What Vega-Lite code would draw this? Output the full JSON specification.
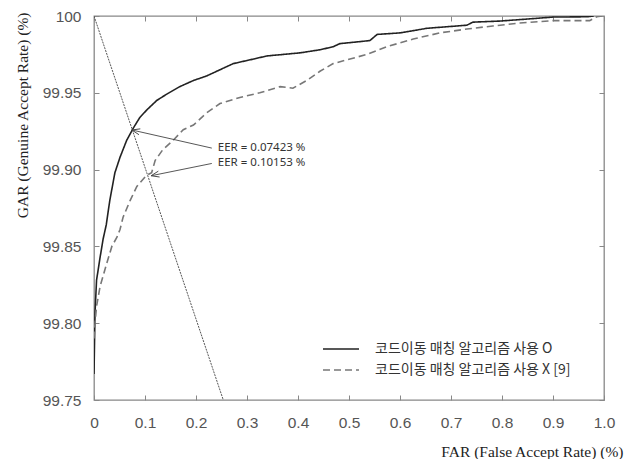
{
  "$schema": "https://vega.github.io/schema/vega-lite/v6.json",
  "autosize": {"type": "none"},
  "width": 510,
  "height": 384,
  "padding": {"left": 94, "top": 16, "right": 28, "bottom": 59},
  "background": "white",
  "config": {
    "view": {"stroke": "#888888", "strokeWidth": 1.3},
    "axis": {
      "domain": false,
      "grid": false,
      "tickColor": "#888888",
      "tickSize": -5,
      "tickWidth": 1,
      "labelFont": "Liberation Sans",
      "labelFontSize": 15.5,
      "labelColor": "#555555",
      "titleFont": "Liberation Serif",
      "titleFontSize": 15.5,
      "titleFontWeight": "normal",
      "titleColor": "#222222"
    }
  },
  "resolve": {"axis": {"x": "independent", "y": "independent"}},
  "layer": [
    {
      "data": {"values": [{"far": 0, "gar": 100}, {"far": 0.2535, "gar": 99.75}]},
      "mark": {"type": "line", "color": "#555555", "strokeWidth": 1, "strokeDash": [2, 1], "clip": true},
      "encoding": {
        "x": {"field": "far", "type": "quantitative", "scale": {"domain": [0, 1], "nice": false, "zero": false},
              "axis": {"orient": "top", "labels": false, "title": null, "values": [0,0.1,0.2,0.3,0.4,0.5,0.6,0.7,0.8,0.9,1.0]}},
        "y": {"field": "gar", "type": "quantitative", "scale": {"domain": [99.75, 100], "nice": false, "zero": false},
              "axis": {"orient": "right", "labels": false, "title": null, "values": [99.75,99.8,99.85,99.9,99.95,100]}}
      }
    },
    {
      "data": {"values": [
        {"s": "코드이동 매칭 알고리즘 사용 O", "far": 0, "gar": 99.767},
        {"s": "코드이동 매칭 알고리즘 사용 O", "far": 0.002, "gar": 99.807},
        {"s": "코드이동 매칭 알고리즘 사용 O", "far": 0.005, "gar": 99.828},
        {"s": "코드이동 매칭 알고리즘 사용 O", "far": 0.012, "gar": 99.843},
        {"s": "코드이동 매칭 알고리즘 사용 O", "far": 0.018, "gar": 99.855},
        {"s": "코드이동 매칭 알고리즘 사용 O", "far": 0.024, "gar": 99.864},
        {"s": "코드이동 매칭 알고리즘 사용 O", "far": 0.031, "gar": 99.880},
        {"s": "코드이동 매칭 알고리즘 사용 O", "far": 0.041, "gar": 99.898},
        {"s": "코드이동 매칭 알고리즘 사용 O", "far": 0.051, "gar": 99.908},
        {"s": "코드이동 매칭 알고리즘 사용 O", "far": 0.064, "gar": 99.919},
        {"s": "코드이동 매칭 알고리즘 사용 O", "far": 0.077, "gar": 99.927},
        {"s": "코드이동 매칭 알고리즘 사용 O", "far": 0.090, "gar": 99.934},
        {"s": "코드이동 매칭 알고리즘 사용 O", "far": 0.104, "gar": 99.939},
        {"s": "코드이동 매칭 알고리즘 사용 O", "far": 0.123, "gar": 99.945},
        {"s": "코드이동 매칭 알고리즘 사용 O", "far": 0.142, "gar": 99.949},
        {"s": "코드이동 매칭 알고리즘 사용 O", "far": 0.168, "gar": 99.954},
        {"s": "코드이동 매칭 알고리즘 사용 O", "far": 0.195, "gar": 99.958},
        {"s": "코드이동 매칭 알고리즘 사용 O", "far": 0.221, "gar": 99.961},
        {"s": "코드이동 매칭 알고리즘 사용 O", "far": 0.247, "gar": 99.965},
        {"s": "코드이동 매칭 알고리즘 사용 O", "far": 0.273, "gar": 99.969},
        {"s": "코드이동 매칭 알고리즘 사용 O", "far": 0.313, "gar": 99.972},
        {"s": "코드이동 매칭 알고리즘 사용 O", "far": 0.339, "gar": 99.974},
        {"s": "코드이동 매칭 알고리즘 사용 O", "far": 0.372, "gar": 99.975},
        {"s": "코드이동 매칭 알고리즘 사용 O", "far": 0.404, "gar": 99.976},
        {"s": "코드이동 매칭 알고리즘 사용 O", "far": 0.443, "gar": 99.978},
        {"s": "코드이동 매칭 알고리즘 사용 O", "far": 0.469, "gar": 99.980},
        {"s": "코드이동 매칭 알고리즘 사용 O", "far": 0.482, "gar": 99.982},
        {"s": "코드이동 매칭 알고리즘 사용 O", "far": 0.541, "gar": 99.984},
        {"s": "코드이동 매칭 알고리즘 사용 O", "far": 0.555, "gar": 99.988},
        {"s": "코드이동 매칭 알고리즘 사용 O", "far": 0.6, "gar": 99.989},
        {"s": "코드이동 매칭 알고리즘 사용 O", "far": 0.653, "gar": 99.992},
        {"s": "코드이동 매칭 알고리즘 사용 O", "far": 0.731, "gar": 99.994},
        {"s": "코드이동 매칭 알고리즘 사용 O", "far": 0.743, "gar": 99.996},
        {"s": "코드이동 매칭 알고리즘 사용 O", "far": 0.796, "gar": 99.9967},
        {"s": "코드이동 매칭 알고리즘 사용 O", "far": 0.849, "gar": 99.998},
        {"s": "코드이동 매칭 알고리즘 사용 O", "far": 0.9, "gar": 99.9993},
        {"s": "코드이동 매칭 알고리즘 사용 O", "far": 0.966, "gar": 99.9995},
        {"s": "코드이동 매칭 알고리즘 사용 O", "far": 0.98, "gar": 100},
        {"s": "코드이동 매칭 알고리즘 사용 X [9]", "far": 0, "gar": 99.790},
        {"s": "코드이동 매칭 알고리즘 사용 X [9]", "far": 0.001, "gar": 99.796},
        {"s": "코드이동 매칭 알고리즘 사용 X [9]", "far": 0.005, "gar": 99.811},
        {"s": "코드이동 매칭 알고리즘 사용 X [9]", "far": 0.012, "gar": 99.824},
        {"s": "코드이동 매칭 알고리즘 사용 X [9]", "far": 0.025, "gar": 99.839},
        {"s": "코드이동 매칭 알고리즘 사용 X [9]", "far": 0.035, "gar": 99.850},
        {"s": "코드이동 매칭 알고리즘 사용 X [9]", "far": 0.045, "gar": 99.856},
        {"s": "코드이동 매칭 알고리즘 사용 X [9]", "far": 0.051, "gar": 99.861},
        {"s": "코드이동 매칭 알고리즘 사용 X [9]", "far": 0.057, "gar": 99.869},
        {"s": "코드이동 매칭 알고리즘 사용 X [9]", "far": 0.071, "gar": 99.880},
        {"s": "코드이동 매칭 알고리즘 사용 X [9]", "far": 0.084, "gar": 99.889},
        {"s": "코드이동 매칭 알고리즘 사용 X [9]", "far": 0.102, "gar": 99.896},
        {"s": "코드이동 매칭 알고리즘 사용 X [9]", "far": 0.113, "gar": 99.898},
        {"s": "코드이동 매칭 알고리즘 사용 X [9]", "far": 0.12, "gar": 99.906},
        {"s": "코드이동 매칭 알고리즘 사용 X [9]", "far": 0.135, "gar": 99.913},
        {"s": "코드이동 매칭 알고리즘 사용 X [9]", "far": 0.155, "gar": 99.919},
        {"s": "코드이동 매칭 알고리즘 사용 X [9]", "far": 0.175, "gar": 99.926},
        {"s": "코드이동 매칭 알고리즘 사용 X [9]", "far": 0.195, "gar": 99.929},
        {"s": "코드이동 매칭 알고리즘 사용 X [9]", "far": 0.221, "gar": 99.937},
        {"s": "코드이동 매칭 알고리즘 사용 X [9]", "far": 0.247, "gar": 99.943},
        {"s": "코드이동 매칭 알고리즘 사용 X [9]", "far": 0.286, "gar": 99.947},
        {"s": "코드이동 매칭 알고리즘 사용 X [9]", "far": 0.325, "gar": 99.950},
        {"s": "코드이동 매칭 알고리즘 사용 X [9]", "far": 0.365, "gar": 99.954},
        {"s": "코드이동 매칭 알고리즘 사용 X [9]", "far": 0.39, "gar": 99.953},
        {"s": "코드이동 매칭 알고리즘 사용 X [9]", "far": 0.417, "gar": 99.958},
        {"s": "코드이동 매칭 알고리즘 사용 X [9]", "far": 0.443, "gar": 99.964},
        {"s": "코드이동 매칭 알고리즘 사용 X [9]", "far": 0.469, "gar": 99.969},
        {"s": "코드이동 매칭 알고리즘 사용 X [9]", "far": 0.535, "gar": 99.975},
        {"s": "코드이동 매칭 알고리즘 사용 X [9]", "far": 0.574, "gar": 99.980},
        {"s": "코드이동 매칭 알고리즘 사용 X [9]", "far": 0.626, "gar": 99.985},
        {"s": "코드이동 매칭 알고리즘 사용 X [9]", "far": 0.678, "gar": 99.989},
        {"s": "코드이동 매칭 알고리즘 사용 X [9]", "far": 0.731, "gar": 99.9915},
        {"s": "코드이동 매칭 알고리즘 사용 X [9]", "far": 0.782, "gar": 99.9935},
        {"s": "코드이동 매칭 알고리즘 사용 X [9]", "far": 0.835, "gar": 99.9954},
        {"s": "코드이동 매칭 알고리즘 사용 X [9]", "far": 0.9, "gar": 99.997},
        {"s": "코드이동 매칭 알고리즘 사용 X [9]", "far": 0.972, "gar": 99.997},
        {"s": "코드이동 매칭 알고리즘 사용 X [9]", "far": 0.986, "gar": 99.9995},
        {"s": "코드이동 매칭 알고리즘 사용 X [9]", "far": 0.996, "gar": 100}
      ]},
      "mark": {"type": "line", "strokeWidth": 1.6, "clip": true},
      "encoding": {
        "x": {"field": "far", "type": "quantitative", "scale": {"domain": [0, 1], "nice": false, "zero": false},
              "axis": {"orient": "bottom", "values": [0,0.1,0.2,0.3,0.4,0.5,0.6,0.7,0.8,0.9,1.0],
                       "labelExpr": "datum.value == 0 ? '0' : format(datum.value, '.1f')",
                       "labelPadding": 20, "labelFlush": false,
                       "title": "FAR (False Accept Rate) (%)", "titleFontSize": 15.5, "titleAnchor": "end", "titleAlign": "right",
                       "titleX": 529, "titleY": 56, "titleBaseline": "alphabetic"}},
        "y": {"field": "gar", "type": "quantitative", "scale": {"domain": [99.75, 100], "nice": false, "zero": false},
              "axis": {"orient": "left", "values": [99.75,99.8,99.85,99.9,99.95,100],
                       "labelExpr": "datum.value == 100 ? '100' : format(datum.value, '.2f')",
                       "labelPadding": 18, "labelFlush": false,
                       "title": "GAR (Genuine Accept Rate) (%)", "titleAngle": -90, "titleAlign": "right",
                       "titleBaseline": "middle", "titleX": -72, "titleY": -4}},
        "color": {"field": "s", "type": "nominal",
                  "scale": {"domain": ["코드이동 매칭 알고리즘 사용 O", "코드이동 매칭 알고리즘 사용 X [9]"], "range": ["#222222", "#777777"]},
                  "legend": {"orient": "none", "legendX": 240, "legendY": 326, "title": null,
                             "labelFont": "Noto Sans CJK KR", "labelFontSize": 14, "labelColor": "#333333", "labelLimit": 0,
                             "rowPadding": 7,
                             "symbolType": "M -3 0 H 3", "symbolSize": 144, "symbolStrokeWidth": 1.4, "labelOffset": 27}},
        "strokeDash": {"field": "s", "type": "nominal",
                       "scale": {"domain": ["코드이동 매칭 알고리즘 사용 O", "코드이동 매칭 알고리즘 사용 X [9]"], "range": [[1, 0], [7, 4]]},
                       "legend": {"orient": "none", "legendX": 240, "legendY": 326, "title": null,
                             "labelFont": "Noto Sans CJK KR", "labelFontSize": 14, "labelColor": "#333333", "labelLimit": 0,
                             "rowPadding": 7,
                             "symbolType": "M -3 0 H 3", "symbolSize": 144, "symbolStrokeWidth": 1.4, "labelOffset": 27}}
      }
    },
    {
      "data": {"name": "eer", "values": [
        {"label": "EER = 0.07423 %", "far": 0.0742, "gar": 99.9258, "far2": 0.231, "gar2": 99.914},
        {"label": "EER = 0.10153 %", "far": 0.112, "gar": 99.896, "far2": 0.231, "gar2": 99.904}
      ]},
      "layer": [
        {
          "mark": {"type": "rule", "color": "#444444", "strokeWidth": 0.9},
          "encoding": {
            "x": {"field": "far", "type": "quantitative", "axis": null},
            "y": {"field": "gar", "type": "quantitative", "axis": null},
            "x2": {"field": "far2"},
            "y2": {"field": "gar2"}
          }
        },
        {
          "transform": [{"filter": "datum.label == 'EER = 0.07423 %'"}],
          "mark": {"type": "point", "shape": "M -0.6 1.6 L 0 0 L 0.6 1.6", "filled": false, "stroke": "#444444", "strokeWidth": 0.9, "size": 100, "angle": 283, "opacity": 1},
          "encoding": {
            "x": {"field": "far", "type": "quantitative", "axis": null},
            "y": {"field": "gar", "type": "quantitative", "axis": null}
          }
        },
        {
          "transform": [{"filter": "datum.label == 'EER = 0.10153 %'"}],
          "mark": {"type": "point", "shape": "M -0.6 1.6 L 0 0 L 0.6 1.6", "filled": false, "stroke": "#444444", "strokeWidth": 0.9, "size": 100, "angle": 258, "opacity": 1},
          "encoding": {
            "x": {"field": "far", "type": "quantitative", "axis": null},
            "y": {"field": "gar", "type": "quantitative", "axis": null}
          }
        },
        {
          "mark": {"type": "text", "align": "left", "baseline": "middle", "dx": 6, "font": "Noto Sans", "fontSize": 11.5, "color": "#333333"},
          "encoding": {
            "x": {"field": "far2", "type": "quantitative", "axis": null},
            "y": {"field": "gar2", "type": "quantitative", "axis": null},
            "text": {"field": "label"}
          }
        }
      ]
    }
  ]
}
